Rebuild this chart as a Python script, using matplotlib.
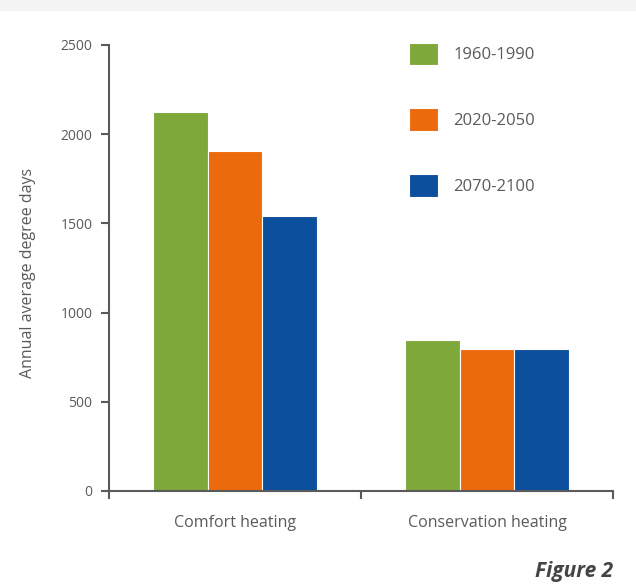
import numpy as np
import matplotlib.pyplot as plt
from matplotlib.patches import Rectangle

# --- data ---
categories = ["Comfort heating", "Conservation heating"]
periods = ["1960-1990", "2020-2050", "2070-2100"]
values_1960 = [2125, 847]
values_2020 = [1905, 796]
values_2070 = [1541, 796]
colors = ["#7ea83a", "#eb6a0c", "#0c4f9c"]

plt.rcParams['font.family'] = ['Open Sans', 'DejaVu Sans']
grey = "#5a5a5a"

fig = plt.figure(figsize=(6.36, 5.84), dpi=100)
fig.patches.append(Rectangle((0, 1 - 10 / 584), 1, 10 / 584, transform=fig.transFigure,
                             color="#f4f4f4", zorder=0))
ax = fig.add_axes([109 / 636, 1 - 491 / 584, 504 / 636, 446 / 584])

x = np.arange(len(categories))
w = 0.218
for i, (vals, lab) in enumerate(zip([values_1960, values_2020, values_2070], periods)):
    ax.bar(x + (i - 1) * w, vals, width=w, color=colors[i], edgecolor="white",
           linewidth=0.8, label=lab)

ax.set_xlim(-0.5, 1.5)
ax.set_ylim(0, 2500)
ax.set_yticks([0, 500, 1000, 1500, 2000, 2500])
ax.set_xticks([-0.5, 0.5, 1.5])
ax.set_xticklabels([])
ax.set_xticks(x, minor=True)
ax.set_xticklabels(categories, minor=True)
ax.tick_params(axis='x', which='minor', length=0, pad=17, labelsize=11.5, labelcolor=grey)
ax.tick_params(axis='x', which='major', length=6, width=1.5, color=grey)
ax.tick_params(axis='y', length=6, width=1.5, color=grey, pad=6, labelsize=10, labelcolor=grey)

for s in ["top", "right"]:
    ax.spines[s].set_visible(False)
for s in ["left", "bottom"]:
    ax.spines[s].set_color(grey)
    ax.spines[s].set_linewidth(1.5)

ax.set_ylabel("Annual average degree days", fontsize=11.5, color=grey)
ax.yaxis.set_label_coords(-0.144, 0.49)

leg = ax.legend(loc="upper left", bbox_to_anchor=(0.566, 1.039), frameon=False,
                handlelength=1.7, handleheight=1.7, labelspacing=2.6,
                handletextpad=0.95, fontsize=12, labelcolor=grey)

fig.text(613 / 636, 1 - 572 / 584, "Figure 2", ha="right", va="center",
         fontsize=15, fontweight="bold", fontstyle="italic", color="#444444")

fig.savefig("out.png", dpi=100)
